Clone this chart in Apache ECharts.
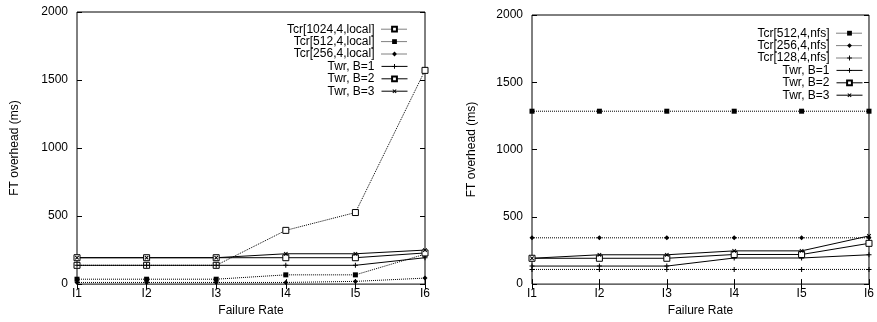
<!DOCTYPE html>
<html>
<head>
<meta charset="utf-8">
<script src="https://cdn.jsdelivr.net/npm/echarts@6/dist/echarts.min.js"></script>
<style>
  html, body { margin: 0; padding: 0; background: #fff; }
  #left { position: absolute; left: 0; top: 0; width: 440px; height: 322px; }
  #right { position: absolute; left: 440px; top: 0; width: 437px; height: 322px; }
</style>
</head>
<body>
<div id="left"></div>
<div id="right"></div>
<script>
// x轴分类
var categories = ['I1', 'I2', 'I3', 'I4', 'I5', 'I6'];
var yTicks = [0, 500, 1000, 1500, 2000];

// 左图 local
var tcr1024Local = [138, 138, 138, 395, 526, 1571];
var tcr512Local = [36, 36, 36, 68, 68, 220];
var tcr256Local = [12, 12, 12, 12, 20, 44];
var twrB1Local = [138, 138, 138, 138, 138, 194];
var twrB2Local = [194, 194, 194, 194, 194, 229];
var twrB3Local = [194, 194, 194, 223, 223, 250];

// 右图 nfs
var tcr512Nfs = [1285, 1285, 1285, 1285, 1285, 1285];
var tcr256Nfs = [344, 344, 344, 344, 344, 344];
var tcr128Nfs = [109, 109, 109, 109, 109, 109];
var twrB1Nfs = [134, 134, 134, 194, 194, 218];
var twrB2Nfs = [192, 192, 192, 220, 220, 303];
var twrB3Nfs = [192, 218, 218, 247, 247, 358];

var FONT = 'Liberation Sans, Arial, Helvetica, sans-serif';
var PLUS = 'path://M4,0H6V4H10V6H6V10H4V6H0V4H4Z';

// 一条线
function makeLine(name, data, dotted, symbol, hollow) {
    var isPlus = symbol === 'plus' || symbol === 'x';
    return {
        name: name,
        type: 'line',
        data: data,
        symbol: isPlus ? PLUS : symbol,
        symbolSize: symbol === 'diamond' ? 5 : (hollow ? 6 : 5),
        symbolRotate: symbol === 'x' ? 45 : 0,
        showAllSymbol: true,
        lineStyle: { color: '#000', width: 1, type: dotted ? 'dotted' : 'solid' },
        itemStyle: {
            color: hollow ? '#fff' : '#000',
            borderColor: '#000',
            borderWidth: hollow ? 1 : 0
        },
        emphasis: { disabled: true },
        z: dotted ? 2 : 3
    };
}

function initChart(dom, cfg) {
    var chart = echarts.init(dom, null, { renderer: 'canvas' });
    var series = cfg.lines.map(function (l) {
        return makeLine(l.name, l.data, l.dotted, l.symbol, l.hollow);
    });
    var tickStyle = { show: true, inside: true, length: 5, lineStyle: { color: '#000', width: 1 } };
    var option = {
        animation: false,
        textStyle: { fontFamily: FONT, color: '#000' },
        grid: {
            left: cfg.grid[0], right: cfg.grid[1], top: cfg.grid[2], bottom: cfg.grid[3],
            show: true, borderColor: '#000', borderWidth: 1, backgroundColor: 'transparent'
        },
        legend: {
            orient: 'vertical',
            right: cfg.legendRight,
            top: cfg.legendTop,
            align: 'right',
            itemWidth: 26,
            itemHeight: 6,
            itemGap: 0,
            textStyle: { fontFamily: FONT, fontSize: 12, color: '#000', lineHeight: 12.4, padding: [0, 2, 0, 0] },
            data: cfg.lines.map(function (l) {
                return {
                    name: l.name,
                    lineStyle: { color: '#000', width: 1, type: l.dotted ? 'dotted' : 'solid' }
                };
            })
        },
        xAxis: [{
            type: 'category',
            data: categories,
            boundaryGap: false,
            name: 'Failure Rate',
            nameLocation: 'middle',
            nameGap: 14,
            nameTextStyle: { fontFamily: FONT, fontSize: 12, color: '#000' },
            axisLine: { show: false },
            axisTick: tickStyle,
            axisLabel: { fontFamily: FONT, fontSize: 12, color: '#000', margin: 4 },
            splitLine: { show: false }
        }, {
            type: 'category',
            data: categories,
            boundaryGap: false,
            position: 'top',
            axisLine: { show: false },
            axisTick: tickStyle,
            axisLabel: { show: false },
            splitLine: { show: false }
        }],
        yAxis: [{
            type: 'value',
            min: yTicks[0],
            max: yTicks[yTicks.length - 1],
            interval: 500,
            name: 'FT overhead (ms)',
            nameLocation: 'middle',
            nameGap: cfg.yNameGap,
            nameTextStyle: { fontFamily: FONT, fontSize: 12, color: '#000' },
            axisLine: { show: false },
            axisTick: tickStyle,
            axisLabel: {
                fontFamily: FONT, fontSize: 12, color: '#000', margin: 9,
                formatter: function (v) { return String(v); }
            },
            splitLine: { show: false }
        }, {
            type: 'value',
            min: yTicks[0],
            max: yTicks[yTicks.length - 1],
            interval: 500,
            position: 'right',
            axisLine: { show: false },
            axisTick: tickStyle,
            axisLabel: { show: false },
            splitLine: { show: false }
        }],
        series: series
    };
    chart.setOption(option);
    return chart;
}

initChart(document.getElementById('left'), {
    grid: [77, 15, 12, 35],
    legendRight: 27,
    legendTop: 18,
    yNameGap: 56,
    lines: [
        { name: 'Tcr[1024,4,local]', data: tcr1024Local, dotted: true, symbol: 'rect', hollow: true },
        { name: 'Tcr[512,4,local]', data: tcr512Local, dotted: true, symbol: 'rect' },
        { name: 'Tcr[256,4,local]', data: tcr256Local, dotted: true, symbol: 'diamond' },
        { name: 'Twr, B=1', data: twrB1Local, dotted: false, symbol: 'plus' },
        { name: 'Twr, B=2', data: twrB2Local, dotted: false, symbol: 'rect', hollow: true },
        { name: 'Twr, B=3', data: twrB3Local, dotted: false, symbol: 'x' }
    ]
});

initChart(document.getElementById('right'), {
    grid: [92, 1, 15, 32],
    legendRight: 9,
    legendTop: 22,
    yNameGap: 54,
    lines: [
        { name: 'Tcr[512,4,nfs]', data: tcr512Nfs, dotted: true, symbol: 'rect' },
        { name: 'Tcr[256,4,nfs]', data: tcr256Nfs, dotted: true, symbol: 'diamond' },
        { name: 'Tcr[128,4,nfs]', data: tcr128Nfs, dotted: true, symbol: 'plus' },
        { name: 'Twr, B=1', data: twrB1Nfs, dotted: false, symbol: 'plus' },
        { name: 'Twr, B=2', data: twrB2Nfs, dotted: false, symbol: 'rect', hollow: true },
        { name: 'Twr, B=3', data: twrB3Nfs, dotted: false, symbol: 'x' }
    ]
});
</script>
</body>
</html>
